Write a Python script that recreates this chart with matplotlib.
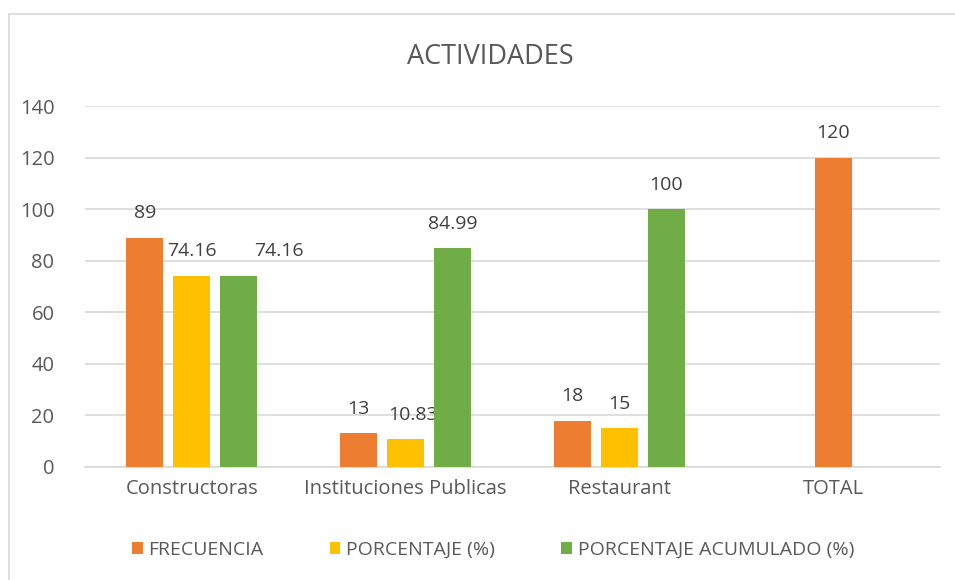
import matplotlib.pyplot as plt
import numpy as np

plt.rcParams['font.family'] = ['Open Sans', 'DejaVu Sans']

categorias = ['Constructoras', 'Instituciones Publicas', 'Restaurant', 'TOTAL']
frecuencia = [89, 13, 18, 120]
porcentaje = [74.16, 10.83, 15, None]
acumulado = [74.16, 84.99, 100, None]

series = [
    ('FRECUENCIA', frecuencia, '#ED7D31'),
    ('PORCENTAJE (%)', porcentaje, '#FFC000'),
    ('PORCENTAJE ACUMULADO (%)', acumulado, '#70AD47'),
]
# desplazamiento horizontal de las etiquetas (px) como en el original
desp = {('PORCENTAJE ACUMULADO (%)', 0): 40, ('PORCENTAJE (%)', 1): 7}

fig = plt.figure(figsize=(9.55, 5.8), dpi=100)
ax = fig.add_axes([85 / 955, 113 / 580, 855 / 955, 361 / 580])

x = np.arange(len(categorias))
ancho = 0.173
paso = 0.22
gris = '#595959'

for i, (nombre, valores, color) in enumerate(series):
    xs = [xi + (i - 1) * paso for xi, v in zip(x, valores) if v is not None]
    vs = [v for v in valores if v is not None]
    if nombre == 'FRECUENCIA':
        # TOTAL solo tiene frecuencia, centrada
        xs[-1] = x[-1]
    ax.bar(xs, vs, width=ancho, color=color, label=nombre, zorder=3)
    for j, (xx, v) in enumerate(zip(xs, vs)):
        texto = f'{v:g}'
        ax.annotate(texto, (xx, v), xytext=(desp.get((nombre, j), 0) * 0.72, 11),
                    textcoords='offset points', ha='center', va='bottom',
                    fontsize=14, color='#404040')

ax.set_xlim(-0.5, 3.5)
ax.set_ylim(0, 140)
ax.set_yticks(range(0, 141, 20))
ax.set_xticks(x)
ax.set_xticklabels(categorias)
ax.tick_params(axis='both', length=0, labelsize=14.5, colors=gris)
ax.tick_params(axis='x', pad=9)
ax.tick_params(axis='y', pad=22)
ax.grid(axis='y', color='#D9D9D9', linewidth=1.2, zorder=0)
for s in ['top', 'right', 'left']:
    ax.spines[s].set_visible(False)
ax.spines['bottom'].set_color('#D9D9D9')
ax.spines['bottom'].set_linewidth(1.2)

fig.text(490 / 955, 1 - 57 / 580, 'ACTIVIDADES', ha='center', va='center',
         fontsize=19.5, color=gris)

ley = fig.legend(loc='center', bbox_to_anchor=(493 / 955, 1 - 550 / 580), ncol=3,
                 frameon=False, fontsize=14, handlelength=0.55, handleheight=0.55,
                 handletextpad=0.3, columnspacing=3.4)
for t in ley.get_texts():
    t.set_color(gris)

# marco del gráfico
fig.patches.append(plt.Rectangle((9 / 955, -0.1), 1, 1 - 14 / 580 + 0.1,
                                 transform=fig.transFigure, fill=False,
                                 edgecolor='#D9D9D9', linewidth=1.2))

fig.savefig('out.png', dpi=100)
